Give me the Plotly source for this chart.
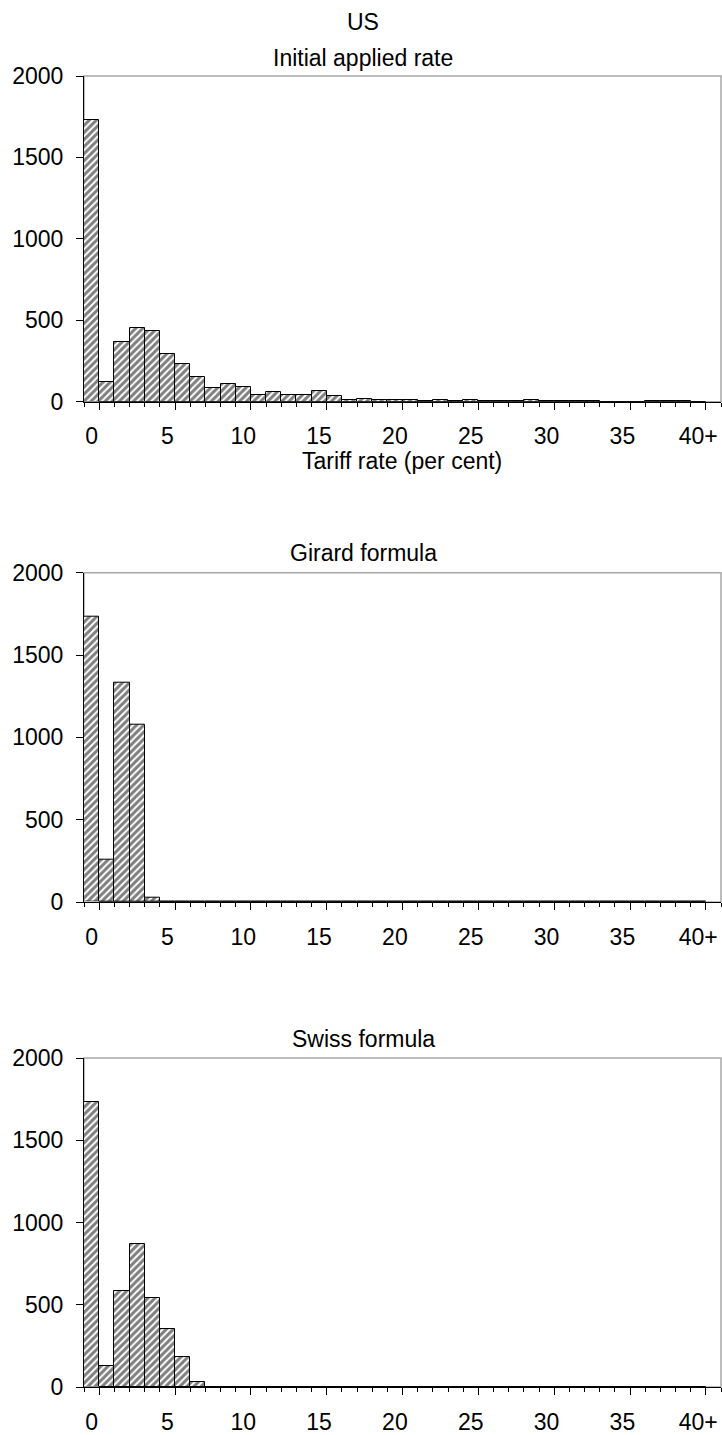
import plotly.graph_objects as go

# Tariff-rate bins (per cent); the last bin collects everything at or above 40
categories = [str(i) for i in range(40)] + ["40+"]
tick_labels = ["0", "5", "10", "15", "20", "25", "30", "35", "40+"]

# Number of tariff lines falling in each bin
initial_rate = [1730, 119, 365, 455, 433, 291, 232, 150, 85, 110,
                93, 41, 62, 39, 39, 66, 32, 12, 17, 12,
                10, 8, 2, 8, 4, 12, 4, 4, 4, 10,
                5, 5, 5, 5, 0, 0, 0, 4, 4, 4,
                0]
girard_formula = [1730, 259, 1334, 1079, 25] + [0] * 36
swiss_formula = [1730, 130, 585, 869, 541, 350, 180, 30] + [0] * 33

panels = [
    ("Initial applied rate", initial_rate),
    ("Girard formula", girard_formula),
    ("Swiss formula", swiss_formula),
]

W, H = 722, 1435
FONT = "Liberation Sans, Arial, sans-serif"
FS = 23

# Pixel geometry of each plot area (top, bottom) on the page
x_left, x_right = 84, 721
rows_px = [(76, 401.7), (572.7, 902), (1058, 1387)]
title_px = [58, 553, 1039]
title_x = 363 / W          # chart titles are centred on the page


def py(v):
    return 1 - v / H


fig = go.Figure()
xpos = list(range(len(categories)))
tickpos = [categories.index(t) for t in tick_labels]
annotations = []
shapes = []
layout = {}

for i, ((name, values), (top, bot)) in enumerate(zip(panels, rows_px)):
    xa = "x" if i == 0 else f"x{2 * i + 1}"
    xt = f"x{2 * i + 2}"
    ya = "y" if i == 0 else f"y{i + 1}"
    xa_key = "xaxis" if i == 0 else f"xaxis{2 * i + 1}"
    xt_key = f"xaxis{2 * i + 2}"
    ya_key = "yaxis" if i == 0 else f"yaxis{i + 1}"
    dom_x = [x_left / W, x_right / W]
    dom_y = [py(bot), py(top)]
    xr = [-0.5, len(categories) + 0.5]

    fig.add_trace(go.Bar(
        x=xpos, y=values, xaxis=xa, yaxis=ya,
        marker=dict(
            color="white",
            line=dict(color="black", width=1),
            pattern=dict(shape="/", fgcolor="black", bgcolor="white",
                         size=5, solidity=0.6),
        ),
        showlegend=False, hoverinfo="skip",
    ))
    # invisible trace so that the tick-mark axis gets drawn
    fig.add_trace(go.Bar(x=[0], y=[0], xaxis=xt, yaxis=ya,
                         showlegend=False, hoverinfo="skip",
                         marker=dict(color="rgba(0,0,0,0)")))

    # category labels centred under the bars
    layout[xa_key] = dict(
        domain=dom_x, anchor=ya, range=xr, tickmode="array",
        tickvals=tickpos, ticktext=tick_labels, ticks="",
        ticklabelstandoff=14,
        showline=True, linecolor="black", linewidth=1.2,
        showgrid=False, zeroline=False,
        tickfont=dict(family=FONT, size=FS, color="black"),
        fixedrange=True,
    )
    # tick marks on the bin boundaries
    layout[xt_key] = dict(
        overlaying=xa, anchor=ya, side="bottom", range=xr,
        tickmode="linear", tick0=0.5, dtick=5,
        ticks="outside", ticklen=7, tickcolor="black", tickwidth=1.2,
        minor=dict(ticks="outside", ticklen=4, tickcolor="black",
                   tick0=0.5, dtick=1, tickwidth=1),
        showticklabels=False, showline=False, showgrid=False,
        zeroline=False, fixedrange=True,
    )
    layout[ya_key] = dict(
        domain=dom_y, anchor=xa, range=[0, 2000], tickmode="array",
        tickvals=[0, 500, 1000, 1500, 2000],
        ticks="outside", ticklen=7, tickcolor="black", tickwidth=1.2,
        ticklabelstandoff=8,
        showline=True, linecolor="black", linewidth=1.2,
        showgrid=False, zeroline=False,
        tickfont=dict(family=FONT, size=FS, color="black"),
        fixedrange=True,
    )
    # light frame around the plot area
    shapes.append(dict(type="rect", xref=f"{xa} domain", yref=f"{ya} domain",
                       x0=0, x1=1, y0=0, y1=1, layer="below",
                       line=dict(color="#a8a8a8", width=1.5)))
    annotations.append(dict(text=name, x=title_x,
                            y=py(title_px[i]), xref="paper", yref="paper",
                            xanchor="center", yanchor="middle",
                            showarrow=False,
                            font=dict(family=FONT, size=FS, color="black")))

annotations.append(dict(text="US", x=title_x, y=py(22),
                        xref="paper", yref="paper", xanchor="center",
                        yanchor="middle", showarrow=False,
                        font=dict(family=FONT, size=FS, color="black")))
annotations.append(dict(text="Tariff rate (per cent)",
                        x=(x_left + x_right) / 2 / W, y=py(461),
                        xref="paper", yref="paper", xanchor="center",
                        yanchor="middle", showarrow=False,
                        font=dict(family=FONT, size=FS, color="black")))

fig.update_layout(
    width=W, height=H,
    margin=dict(l=0, r=0, t=0, b=0, autoexpand=False),
    paper_bgcolor="white", plot_bgcolor="white",
    bargap=0, barmode="overlay",
    annotations=annotations, shapes=shapes,
    **layout,
)

fig.write_html("out.html", include_plotlyjs=True, full_html=True,
               config={"displayModeBar": False},
               post_script="document.body.style.margin = '0';")
